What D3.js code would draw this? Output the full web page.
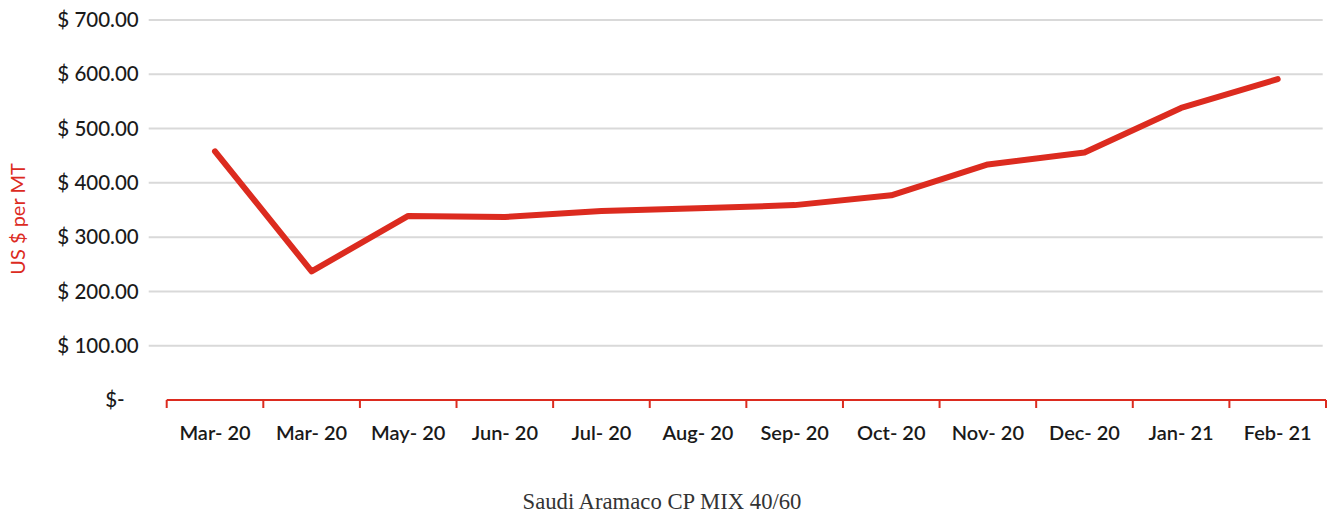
<!DOCTYPE html>
<meta charset="utf-8">
<style>
body { margin: 0; background: #fff; }
.grid line { stroke: #d9d9d9; stroke-width: 2; }
.axis text { font-family: Lato, "Open Sans", sans-serif; fill: #1a1a1a; }
</style>
<svg width="1328" height="516"></svg>
<script src="https://cdnjs.cloudflare.com/ajax/libs/d3/7.8.5/d3.min.js"></script>
<script>

var months = ["Mar- 20", "Mar- 20 ", "May- 20", "Jun- 20", "Jul- 20", "Aug- 20", "Sep- 20",
              "Oct- 20", "Nov- 20", "Dec- 20", "Jan- 21", "Feb- 21"];
var prices = [458, 237, 339, 337, 348, 353, 359, 377, 434, 456, 538, 591];
var yTicks = [0, 100, 200, 300, 400, 500, 600, 700];

var red = "#dc2b1f";

var svg = d3.select("svg"),
    margin = {top: 20, right: 2, bottom: 116, left: 166.7},
    width = +svg.attr("width") - margin.left - margin.right,
    height = +svg.attr("height") - margin.top - margin.bottom,
    g = svg.append("g").attr("transform", "translate(" + margin.left + "," + margin.top + ")");

var x = d3.scaleBand()
    .domain(months)
    .range([0, 1159.3]);

var y = d3.scaleLinear()
    .domain([0, 700])
    .range([height, 0]);

// gridlines
g.append("g")
    .attr("class", "grid")
  .selectAll("line")
  .data(yTicks.filter(function(d) { return d > 0; }))
  .enter().append("line")
    .attr("x1", -18)
    .attr("x2", 1156)
    .attr("y1", function(d) { return y(d); })
    .attr("y2", function(d) { return y(d); });

// y labels
var fmt = d3.format(",.2f");
g.append("g")
    .attr("class", "axis")
  .selectAll("text")
  .data(yTicks)
  .enter().append("text")
    .attr("x", function(d) { return d === 0 ? -42 : -28; })
    .attr("y", function(d) { return y(d); })
    .attr("dy", "0.35em")
    .attr("text-anchor", "end")
    .style("font-size", "20.5px")
    .style("font-weight", "500")
    .text(function(d) { return d === 0 ? "$-" : "$ " + fmt(d); });

// x axis
var xAxis = g.append("g")
    .attr("class", "axis")
    .attr("transform", "translate(0," + height + ")")
    .call(d3.axisBottom(x).tickSize(0).tickPadding(0));
xAxis.select(".domain").remove();
xAxis.selectAll("text")
    .attr("y", 33)
    .attr("dy", "0.35em")
    .style("font-size", "20px")
    .style("font-weight", "600")
    .text(function(d) { return d.trim(); });

var axisLine = g.append("g").attr("transform", "translate(0," + height + ")");
axisLine.append("line")
    .attr("x1", 0)
    .attr("x2", x.range()[1])
    .attr("stroke", red)
    .attr("stroke-width", 2);
axisLine.selectAll(".tk")
  .data(months.map(function(m) { return x(m); }).concat([x.range()[1]]))
  .enter().append("line")
    .attr("class", "tk")
    .attr("x1", function(d) { return d; })
    .attr("x2", function(d) { return d; })
    .attr("y1", 0)
    .attr("y2", 8)
    .attr("stroke", red)
    .attr("stroke-width", 2);

// line
var line = d3.line()
    .x(function(d, i) { return x(months[i]) + x.bandwidth() / 2; })
    .y(function(d) { return y(d); });

g.append("path")
    .datum(prices)
    .attr("fill", "none")
    .attr("stroke", red)
    .attr("stroke-width", 6)
    .attr("stroke-linejoin", "round")
    .attr("stroke-linecap", "round")
    .attr("d", line);

// y title
svg.append("text")
    .attr("transform", "translate(25,219) rotate(-90)")
    .attr("text-anchor", "middle")
    .style("font-family", "Lato, 'Open Sans', sans-serif")
    .style("font-size", "20px")
    .attr("fill", red)
    .text("US $ per MT");

// caption
svg.append("text")
    .attr("x", 662)
    .attr("y", 509)
    .attr("text-anchor", "middle")
    .style("font-family", "'Liberation Serif', 'DejaVu Serif', serif")
    .style("font-size", "22.7px")
    .attr("fill", "#333")
    .text("Saudi Aramaco CP MIX 40/60");

</script>
